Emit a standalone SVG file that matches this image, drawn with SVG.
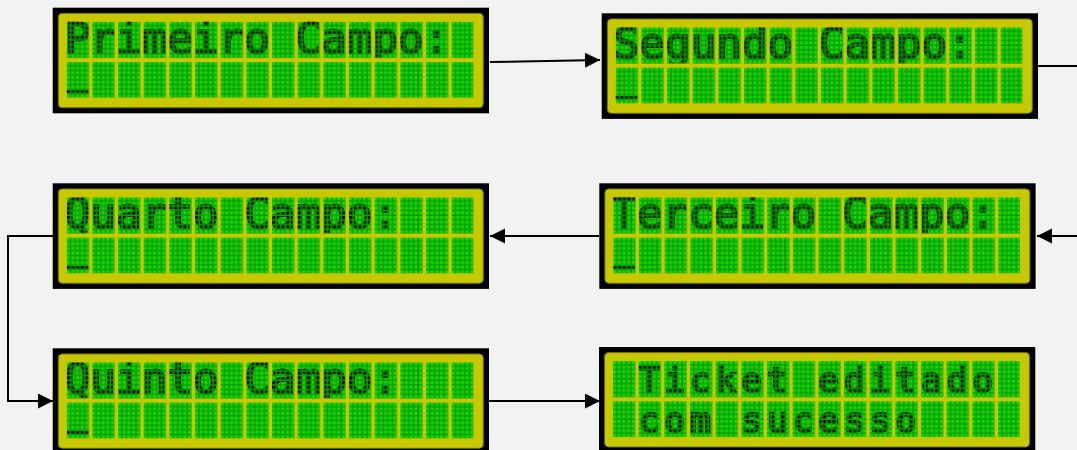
<svg xmlns="http://www.w3.org/2000/svg" width="1077" height="450" viewBox="0 0 1077 450">
<style>
.frame{fill:#000}
.panel{fill:#c8c800;stroke:#6e6e00;stroke-width:1}
.grid{fill:url(#cells)}
.lcd-text{font-family:"DejaVu Sans Mono","Liberation Mono",monospace;font-size:42.6px;fill:#140c00;stroke:#140c00;stroke-width:2;white-space:pre;clip-path:url(#row1)}
.lcd-small{font-family:"DejaVu Sans Mono","Liberation Mono",monospace;font-size:34.5px;letter-spacing:4.9px;fill:#140c00;stroke:#140c00;stroke-width:2.4;white-space:pre}
.cursor{font-family:"DejaVu Sans Mono","Liberation Mono",monospace;font-size:24px;fill:#140c00;stroke:#140c00;stroke-width:2.2}
.lit{mask:url(#dotmask)}
.conn{fill:none;stroke:#000;stroke-width:2}
</style>
<defs>
<pattern id="dots" patternUnits="userSpaceOnUse" width="4.6667" height="4.6667">
<rect width="3.1" height="3.1" fill="#22d400"/>
</pattern>
<pattern id="cells" patternUnits="userSpaceOnUse" width="25.6667" height="40.3333">
<rect x="-0.5" y="-0.5" width="22.67" height="36.67" fill="#00a200"/>
<rect width="21.7" height="35.7" fill="url(#dots)"/>
</pattern>
<pattern id="wdots" patternUnits="userSpaceOnUse" width="4.6667" height="4.6667">
<rect width="3.3" height="3.3" fill="#fff"/>
</pattern>
<pattern id="wcells" patternUnits="userSpaceOnUse" width="25.6667" height="40.3333">
<rect width="21.7" height="35.7" fill="url(#wdots)"/>
</pattern>
<mask id="dotmask" maskUnits="userSpaceOnUse" x="-20" y="-20" width="460" height="130">
<rect x="0" y="0" width="406.7" height="76" fill="url(#wcells)"/>
</mask>
<clipPath id="row1">
<rect x="-20" y="-20" width="460" height="57"/>
</clipPath>
<marker id="arrow" markerUnits="userSpaceOnUse" markerWidth="17" markerHeight="17" refX="15" refY="7.5" orient="auto">
<path d="M0,0 L15,7.5 L0,15 z" fill="#000"/>
</marker>
</defs>
<rect width="1077" height="450" fill="#f2f2f2"/>
<g id="connectors">
<path class="conn" d="M490,62 L600,60" marker-end="url(#arrow)"/>
<path class="conn" d="M1038,66 H1100 V236 H1037" marker-end="url(#arrow)"/>
<path class="conn" d="M599,236 H490" marker-end="url(#arrow)"/>
<path class="conn" d="M53,236 H8 V401 H53" marker-end="url(#arrow)"/>
<path class="conn" d="M489,401 H600" marker-end="url(#arrow)"/>
</g>
<g id="lcd1" transform="translate(66.7,21.7)">
<rect class="frame" x="-14" y="-14" width="436.3" height="105.6"/>
<rect class="panel" x="-8.4" y="-8.4" width="425" height="94.4" rx="4"/>
<rect class="grid" x="0" y="0" width="406.7" height="76"/>
<g class="lit">
<text class="lcd-text" x="-2" y="31">Primeiro Campo:</text>
<text class="cursor" x="0.8" y="64.7" textLength="20" lengthAdjust="spacingAndGlyphs">_</text>
</g>
</g>
<g id="lcd2" transform="translate(615.7,27.3)">
<rect class="frame" x="-14" y="-14" width="436.3" height="105.6"/>
<rect class="panel" x="-8.4" y="-8.4" width="425" height="94.4" rx="4"/>
<rect class="grid" x="0" y="0" width="406.7" height="76"/>
<g class="lit">
<text class="lcd-text" x="-2" y="31">Segundo Campo:</text>
<text class="cursor" x="0.8" y="64.7" textLength="20" lengthAdjust="spacingAndGlyphs">_</text>
</g>
</g>
<g id="lcd3" transform="translate(613.3,197.3)">
<rect class="frame" x="-14" y="-14" width="436.3" height="105.6"/>
<rect class="panel" x="-8.4" y="-8.4" width="425" height="94.4" rx="4"/>
<rect class="grid" x="0" y="0" width="406.7" height="76"/>
<g class="lit">
<text class="lcd-text" x="-2" y="31">Terceiro Campo:</text>
<text class="cursor" x="0.8" y="64.7" textLength="20" lengthAdjust="spacingAndGlyphs">_</text>
</g>
</g>
<g id="lcd4" transform="translate(66.7,197.3)">
<rect class="frame" x="-14" y="-14" width="436.3" height="105.6"/>
<rect class="panel" x="-8.4" y="-8.4" width="425" height="94.4" rx="4"/>
<rect class="grid" x="0" y="0" width="406.7" height="76"/>
<g class="lit">
<text class="lcd-text" x="-2" y="31">Quarto Campo:</text>
<text class="cursor" x="0.8" y="64.7" textLength="20" lengthAdjust="spacingAndGlyphs">_</text>
</g>
</g>
<g id="lcd5" transform="translate(66.7,362.3)">
<rect class="frame" x="-14" y="-14" width="436.3" height="105.6"/>
<rect class="panel" x="-8.4" y="-8.4" width="425" height="94.4" rx="4"/>
<rect class="grid" x="0" y="0" width="406.7" height="76"/>
<g class="lit">
<text class="lcd-text" x="-2" y="31">Quinto Campo:</text>
<text class="cursor" x="0.8" y="64.7" textLength="20" lengthAdjust="spacingAndGlyphs">_</text>
</g>
</g>
<g id="lcd6" transform="translate(613,361)">
<rect class="frame" x="-14" y="-14" width="436.3" height="105.6"/>
<rect class="panel" x="-8.4" y="-8.4" width="425" height="94.4" rx="4"/>
<rect class="grid" x="0" y="0" width="406.7" height="76"/>
<g class="lit">
<text class="lcd-small" x="0" y="31"> Ticket editado</text>
<text class="lcd-small" x="0" y="71.3"> com sucesso</text>
</g>
</g>
</svg>
